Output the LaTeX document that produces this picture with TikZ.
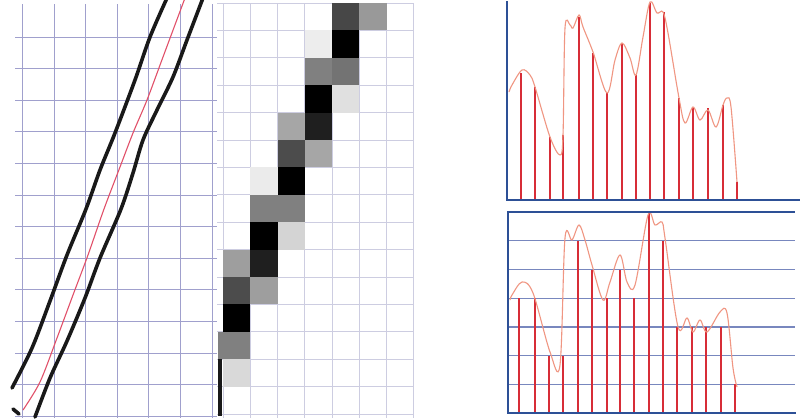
\documentclass[tikz,border=0pt]{standalone}
\begin{document}
\definecolor{gridA}{RGB}{160,160,205}
\definecolor{gridB}{RGB}{205,205,225}
\definecolor{axisblue}{RGB}{45,80,150}
\definecolor{levelblue}{RGB}{120,135,190}
\definecolor{barred}{RGB}{215,45,55}
\definecolor{curvesalmon}{RGB}{240,150,130}
\definecolor{pinkred}{RGB}{225,80,105}
\definecolor{inkblack}{RGB}{25,25,25}
\tikzset{
  gridlineA/.style={draw=gridA,line width=1.1pt},
  gridlineB/.style={draw=gridB,line width=1pt},
  thickpen/.style={draw=inkblack,line width=3.6pt,line cap=round},
  thinpen/.style={draw=pinkred,line width=1.1pt},
  axisline/.style={draw=axisblue,line width=2pt},
  levelline/.style={draw=levelblue,line width=1.2pt},
  barline/.style={draw=barred,line width=2.6pt},
  curveline/.style={draw=curvesalmon,line width=1.1pt}
}
\begin{tikzpicture}[x=1pt,y=-1pt]
\useasboundingbox (0,0) rectangle (805,418);
\fill[white] (0,0) rectangle (805,418);
% ---------- left grid ----------
\foreach \i in {0,...,6} \draw[gridlineA] ({22.5+31.6*\i},4) -- ({22.5+31.6*\i},418);
\foreach \j in {1,...,13} \draw[gridlineA] (15,{5.5+31.6*\j}) -- (217,{5.5+31.6*\j});
% thick black lines and red centre line
\draw[thickpen] plot[smooth] coordinates {(167,-2) (150,37) (135,80) (115,133) (100,170) (86,209) (67,255) (50,301) (32,348) (12,388)};
\draw[thickpen] (13,409) -- (19,414);
\draw[thickpen] plot[smooth] coordinates {(203,-2) (187,40) (173,77) (157,110) (143,140) (133,173) (121,209) (100,258) (85,298) (67,341) (50,378) (35,417)};
\draw[thinpen] plot[smooth] coordinates {(185,-2) (163,57) (147,100) (133,133) (120,167) (104,209) (88,255) (73,295) (57,338) (40,382) (23,410)};
% ---------- middle pixel grid ----------
\foreach \i in {0,...,7} \draw[gridlineB] ({223+27.25*\i},3) -- ({223+27.25*\i},418);
\foreach \j in {0,...,15} \draw[gridlineB] (217,{3+27.4*\j}) -- (414,{3+27.4*\j});
\foreach \c/\r/\g in {4/0/72,5/0/40,4/1/100,3/1/7,3/2/50,4/2/55,3/3/100,4/3/12,2/4/35,3/4/88,2/5/70,3/5/35,1/6/8,2/6/100,1/7/50,2/7/50,1/8/100,2/8/17,0/9/38,1/9/88,0/10/70,1/10/38,0/11/100,0/13/15}
  \fill[black!\g] ({223+27.25*\c},{3+27.4*\r}) rectangle ++(27.25,27.4);
\fill[black!50] (218,{3+27.4*12}) rectangle ++(32.25,27.4);
\fill[inkblack] (217.5,359) rectangle (222,416);
% ---------- top right chart ----------
\foreach \x/\t in {521/73,535/87,550/137,563/135,579/17,593/53,607/93,622/43,636/75,650/3,664/12,679/98,693/107,708/108,723/105,737/182}
  \draw[barline] (\x,200) -- (\x,\t);
\draw[curveline] plot[smooth,tension=0.55] coordinates {(509,92) (512,85) (522,70) (530,75) (535,87) (550,137) (560,155) (563,135) (565,28) (570,25) (573,28) (579,15) (583,27) (593,52) (607,93) (615,60) (622,43) (630,58) (636,75) (643,37) (650,2) (657,13) (663,12) (668,33) (679,98) (685,123) (693,107) (700,120) (708,110) (716,127) (723,105) (727,98) (731,107) (737,182)};
\draw[axisline] (507,1) -- (507,200) -- (800,200);
% ---------- bottom right chart ----------
\foreach \k in {1,...,7} \draw[levelline] (508,{413-28.7*\k}) -- (795,{413-28.7*\k});
\foreach \x/\l in {519/4,535/4,549/2,563/2,578/6,592/5,607/4,620/5,634/4,649/7,663/6,677/3,692/3,706/3,721/3,735/1}
  \draw[barline] (\x,413) -- (\x,{413-28.7*\l});
\draw[curveline] plot[smooth,tension=0.55] coordinates {(510,300) (512,295) (522,282) (533,293) (550,352) (560,365) (565,238) (572,240) (579,225) (585,240) (592,265) (603,300) (610,282) (620,255) (627,282) (635,285) (648,215) (655,225) (662,222) (665,238) (678,327) (687,318) (693,332) (700,320) (707,332) (720,312) (727,313) (733,368) (737,387)};
\draw[axisline] (508,211) -- (508,413) -- (796,413);
\draw[axisline,line width=1.4pt] (508,212) -- (795,212);
\end{tikzpicture}
\end{document}
